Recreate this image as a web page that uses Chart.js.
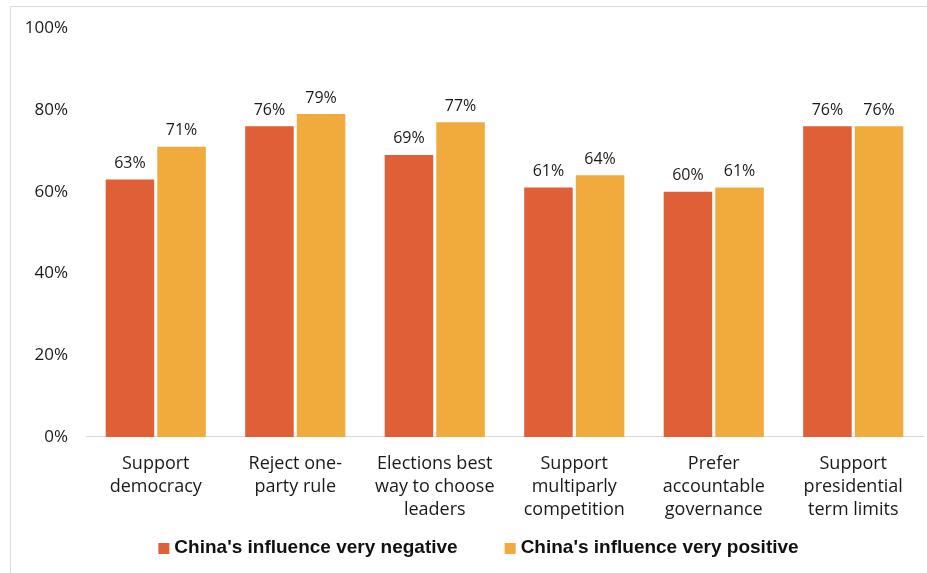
<!DOCTYPE html>
<html>
<head>
<meta charset="utf-8">
<script src="https://cdn.jsdelivr.net/npm/chart.js@4"></script>
<style>
  html, body { margin: 0; padding: 0; background: #fff; }
  #wrap { position: absolute; left: 10px; top: 6px; width: 930px; height: 580px; border: 1px solid #dcdcdc; }
  #box { position: absolute; left: 0; top: 0; width: 927px; height: 573px; }
</style>
</head>
<body>
<div id="wrap"></div>
<div id="box"><canvas id="chart"></canvas></div>
<script>
const categories = [
    ['Support', 'democracy'],
    ['Reject one-', 'party rule'],
    ['Elections best', 'way to choose', 'leaders'],
    ['Support', 'multiparly', 'competition'],
    ['Prefer', 'accountable', 'governance'],
    ['Support', 'presidential', 'term limits']
];
const veryNegative = [63, 76, 69, 61, 60, 76];
const veryPositive = [71, 79, 77, 64, 61, 76];
const yTicks = [0, 20, 40, 60, 80, 100];

const fontFamily = '"Open Sans", Lato, sans-serif';

// labels above each bar
const barLabels = {
    id: 'barLabels',
    afterDatasetsDraw(chart) {
        const ctx = chart.ctx;
        ctx.save();
        ctx.font = '16px ' + fontFamily;
        ctx.fillStyle = '#1a1a1a';
        ctx.textAlign = 'center';
        ctx.textBaseline = 'bottom';
        chart.data.datasets.forEach((ds, i) => {
            chart.getDatasetMeta(i).data.forEach((bar, j) => {
                ctx.fillText(ds.data[j] + '%', bar.x, bar.y - 8);
            });
        });
        ctx.restore();
    }
};

// legend drawn by hand so spacing can match
const bottomLegend = {
    id: 'bottomLegend',
    afterDraw(chart) {
        const ctx = chart.ctx;
        const box = 11, gapText = 5, gapItem = 47;
        ctx.save();
        ctx.font = 'bold 19px "Liberation Sans", Arial, sans-serif';
        ctx.textBaseline = 'middle';
        const items = chart.data.datasets.map(ds => ({
            text: ds.label, color: ds.backgroundColor, w: ctx.measureText(ds.label).width
        }));
        let total = 0;
        items.forEach((it, i) => { total += box + gapText + it.w + (i ? gapItem : 0); });
        let x = chart.width / 2 + 15 - total / 2;
        const y = 548;
        items.forEach(it => {
            ctx.fillStyle = it.color;
            ctx.fillRect(x, y - 5, box, box);
            x += box + gapText;
            ctx.fillStyle = '#111';
            ctx.fillText(it.text, x, y);
            x += it.w + gapItem;
        });
        ctx.restore();
    }
};

const ctx = document.getElementById('chart').getContext('2d');
new Chart(ctx, {
    type: 'bar',
    data: {
        labels: categories,
        datasets: [{
            label: "China's influence very negative",
            data: veryNegative,
            backgroundColor: '#DF5F37'
        }, {
            label: "China's influence very positive",
            data: veryPositive,
            backgroundColor: '#F0AB3C'
        }]
    },
    options: {
        responsive: true,
        maintainAspectRatio: false,
        animation: false,
        layout: { padding: { left: 10, right: 4, top: 18, bottom: 37 } },
        datasets: {
            bar: { categoryPercentage: 0.74, barPercentage: 0.94 }
        },
        scales: {
            x: {
                grid: { display: false, drawTicks: false },
                border: { color: '#d9d9d9', width: 1 },
                ticks: {
                    color: '#1a1a1a',
                    font: { family: fontFamily, size: 18, lineHeight: 1.28 },
                    padding: 15,
                    maxRotation: 0,
                    autoSkip: false
                }
            },
            y: {
                min: 0,
                max: 100,
                afterFit(scale) { scale.width = 76; },
                afterBuildTicks(scale) { scale.ticks = yTicks.map(v => ({ value: v })); },
                grid: { display: false, drawTicks: false },
                border: { display: false },
                ticks: {
                    color: '#1a1a1a',
                    font: { family: fontFamily, size: 17 },
                    padding: 18,
                    callback: v => v + '%'
                }
            }
        },
        plugins: {
            legend: { display: false },
            tooltip: { enabled: false }
        }
    },
    plugins: [barLabels, bottomLegend]
});
</script>
</body>
</html>
